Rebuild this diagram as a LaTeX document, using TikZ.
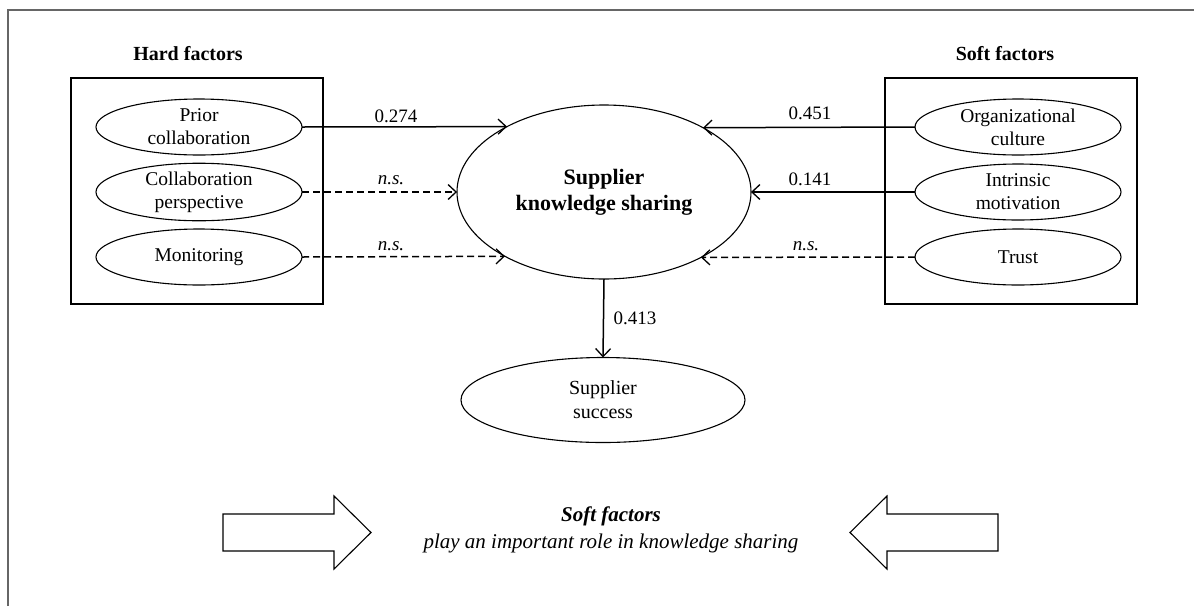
\documentclass[tikz,border=0pt]{standalone}
\usepackage{fontspec}
\setmainfont{Liberation Serif}
\usetikzlibrary{shapes.geometric,arrows.meta}
\begin{document}
\begin{tikzpicture}[x=1pt,y=-1pt,
  ell/.style={draw, ellipse, line width=1.1pt, minimum width=206pt, minimum height=56pt,
    inner sep=0pt, outer sep=0pt, align=center, font=\fontsize{19.5}{23}\selectfont},
  boxframe/.style={draw, line width=1.3pt, inner sep=0pt, outer sep=0pt},
  ttl/.style={font=\fontsize{20}{24}\selectfont\bfseries},
  lbl/.style={font=\fontsize{19}{22}\selectfont, inner sep=0pt},
  conn/.style={line width=1.5pt, -{Straight Barb[length=8pt,width=15pt,line width=1.3pt]}},
  ns/.style={conn, dash pattern=on 7pt off 4pt},
  blockarrow/.style={draw, line width=1.1pt, line join=miter}
]
\useasboundingbox (0,0) rectangle (1194,606);
% outer frame (only top and left edges visible)
\draw[line width=1.5pt, black!60] (8,606) -- (8,10) -- (1194,10);

% titles
\node[ttl] (ht) at (188,54) {Hard factors};
\node[ttl] (st) at (1005,54) {Soft factors};

% boxes
\node[boxframe, minimum width=252pt, minimum height=226pt] (hb) at (197,191) {};
\node[boxframe, minimum width=252pt, minimum height=226pt] (sb) at (1011,191) {};

% hard factor ellipses
\node[ell] (pc) at (199,127) {Prior\\collaboration};
\node[ell] (cp) at (199,192) {Collaboration\\perspective};
\node[ell] (mo) at (199,257) {Monitoring};

% soft factor ellipses
\node[ell] (oc) at (1018,127) {Organizational\\culture};
\node[ell] (im) at (1018,192) {Intrinsic\\motivation};
\node[ell] (tr) at (1018,257) {Trust};

% central ellipses
\node[draw, ellipse, line width=1.1pt, minimum width=294pt, minimum height=174pt,
  inner sep=0pt, outer sep=0pt, align=center,
  font=\fontsize{22}{26}\selectfont\bfseries] (ks) at (604,192) {Supplier\\knowledge sharing};
\node[draw, ellipse, line width=1.1pt, minimum width=284pt, minimum height=85pt,
  inner sep=0pt, outer sep=0pt, align=center,
  font=\fontsize{20}{24}\selectfont] (ss) at (603,400) {Supplier\\success};

% connectors
\draw[conn] (pc.east) -- (ks.146.36);
\draw[ns] (cp.east) -- (ks.west);
\draw[ns] (mo.east) -- (ks.213.64);
\draw[conn] (oc.west) -- (ks.33.64);
\draw[conn] (im.west) -- (ks.east);
\draw[ns] (tr.west) -- (ks.326.36);
\draw[conn] (ks.south) -- (ss.north);

% labels
\node[lbl] (l1) at (396,116) {0.274};
\node[lbl] (l2) at (391,180) {\itshape n.s.};
\node[lbl] (l3) at (391,246) {\itshape n.s.};
\node[lbl] (l4) at (810,113) {0.451};
\node[lbl] (l5) at (810,179) {0.141};
\node[lbl] (l6) at (806,246) {\itshape n.s.};
\node[lbl] (l7) at (635,318) {0.413};

% block arrows
\draw[blockarrow] (223,514) -- (334,514) -- (334,496) -- (371,532.5) -- (334,569) -- (334,551) -- (223,551) -- cycle;
\draw[blockarrow] (998,514) -- (887,514) -- (887,496) -- (850,532.5) -- (887,569) -- (887,551) -- (998,551) -- cycle;

% bottom message
\node[font=\fontsize{21}{27}\selectfont\itshape, align=center] (msg) at (611,530)
  {\bfseries Soft factors\\play an important role in knowledge sharing};
\end{tikzpicture}
\end{document}
